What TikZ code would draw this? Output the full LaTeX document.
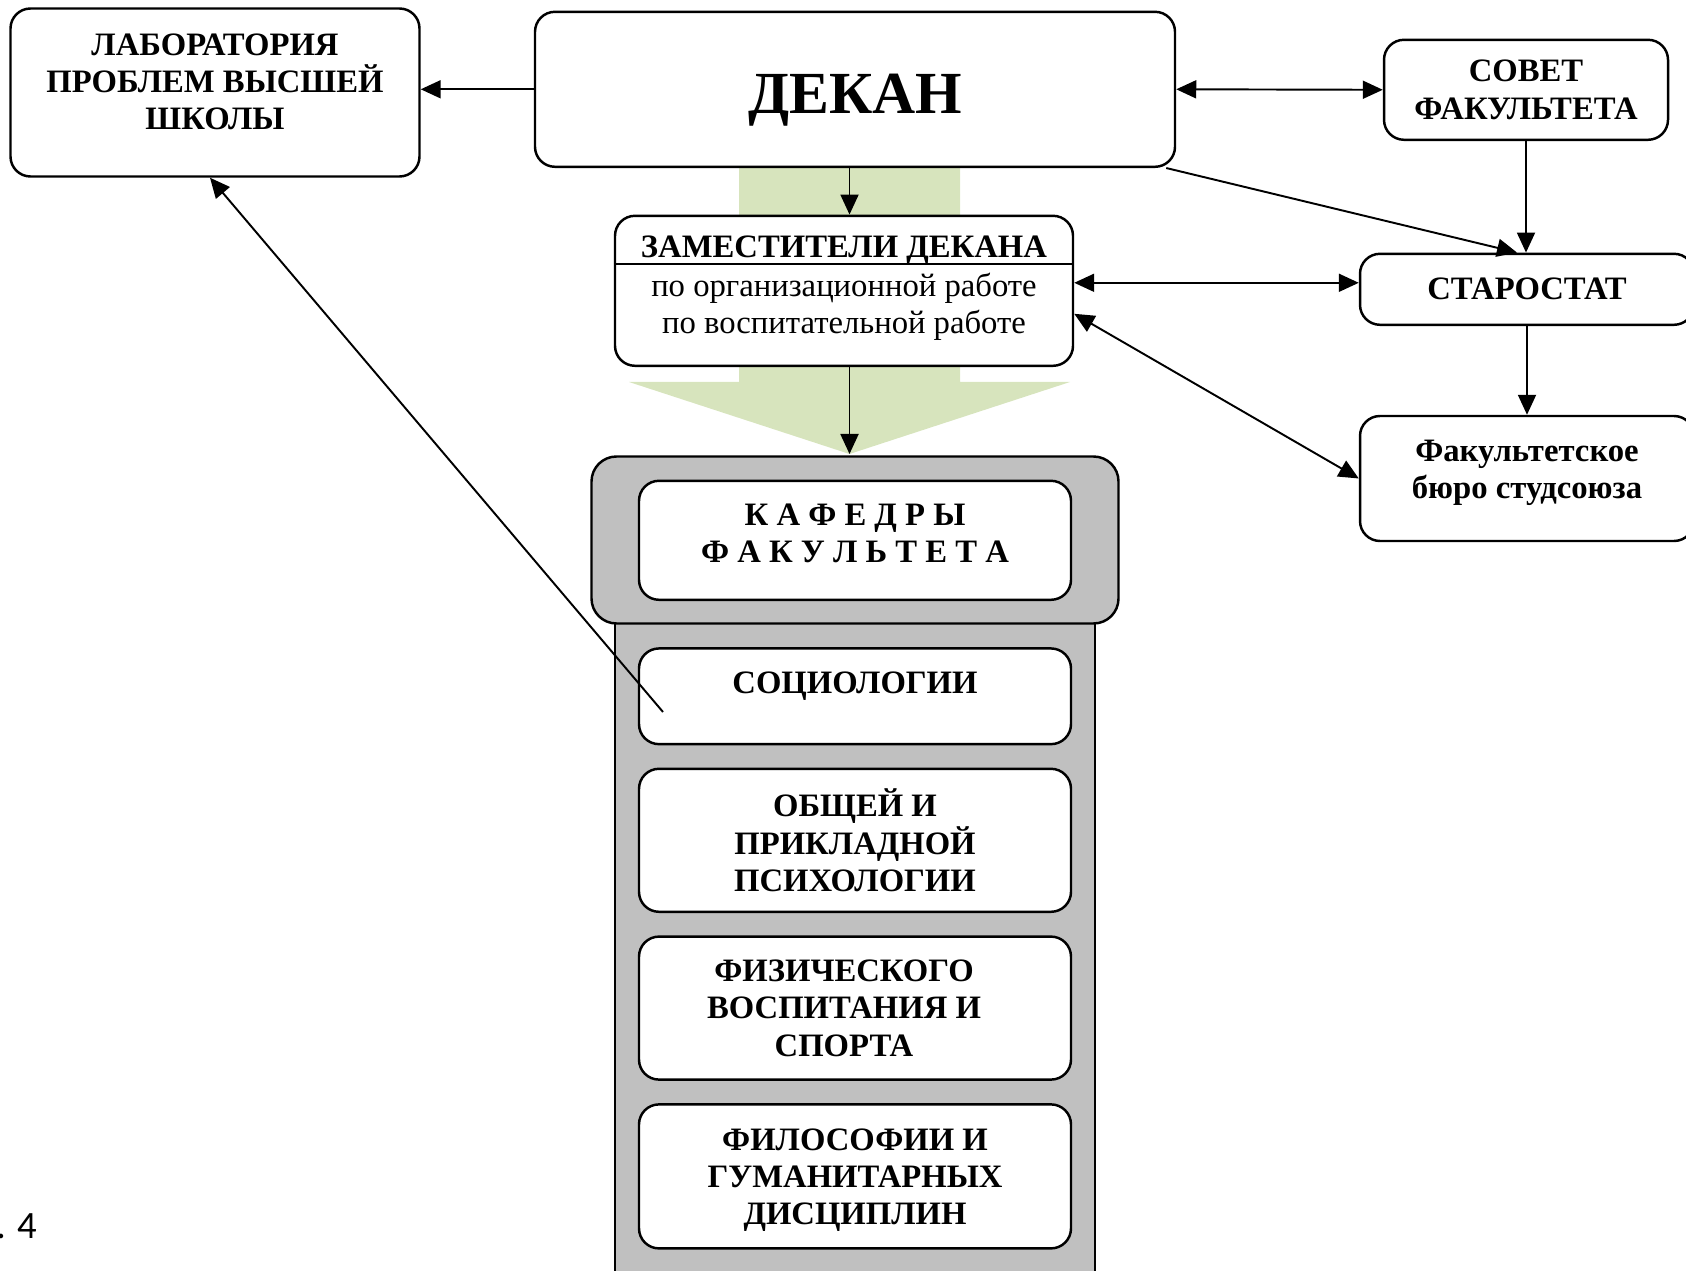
\documentclass[tikz,border=0pt]{standalone}
\usepackage{fontspec}
\setmainfont{Liberation Serif}
\newfontfamily\capfont{Carlito}
\usetikzlibrary{arrows.meta}
\definecolor{bigarrow}{HTML}{D7E4BD}
\definecolor{deptgray}{HTML}{C0C0C0}

\begin{document}
\begin{tikzpicture}
        [>={Triangle[length=2mm,width=1.8mm]},
        box/.style={draw, line width=0.7pt, rounded corners=2mm, fill=white, align=center, font=\bfseries\fontsize{9.3}{10.6}\selectfont},
        txt/.style={align=center, inner sep=0pt, font=\bfseries\fontsize{9.3}{10.6}\selectfont},
        plain/.style={align=center, inner sep=0pt, font=\fontsize{9.3}{10.6}\selectfont},
        edge/.style={line width=0.55pt, ->},
        twoway/.style={line width=0.55pt, <->}]

        \useasboundingbox (0,0) rectangle (16.86,-12.71);
        \clip (0,0) rectangle (16.86,-12.71);

        % green arrow behind the deputies
        \fill[bigarrow] (7.39,-1.5) -- (9.60,-1.5) -- (9.60,-3.82) -- (10.70,-3.82)
            -- (8.495,-4.54) -- (6.29,-3.82) -- (7.39,-3.82) -- cycle;
        \coordinate (tip) at (8.495,-4.54);

        % gray column of the departments
        \draw[fill=deptgray, line width=0.7pt] (6.15,-6.0) rectangle (10.95,-13.0);
        \node[box, fill=deptgray, rounded corners=2.5mm, minimum width=5.27cm, minimum height=1.67cm] (kaf) at (8.55,-5.40) {};

        \node[box, minimum width=4.09cm, minimum height=1.68cm] (lab) at (2.15,-0.925) {};
        \node[txt] (labtext) at (2.15,-0.82) {ЛАБОРАТОРИЯ\\ПРОБЛЕМ ВЫСШЕЙ\\ШКОЛЫ};
        \node[box, minimum width=6.40cm, minimum height=1.55cm] (dekan) at (8.55,-0.893) {};
        \node[txt, font=\bfseries\fontsize{17}{20}\selectfont] (dekantext) at (8.55,-1.0) {ДЕКАН};
        \node[box, minimum width=2.84cm, minimum height=1.0cm] (sovet) at (15.26,-0.898) {СОВЕТ\\ФАКУЛЬТЕТА};

        \node[box, minimum width=4.58cm, minimum height=1.50cm] (zam) at (8.44,-2.908) {};
        \draw[line width=0.7pt] ([yshift=-4.96mm]zam.north west) -- ([yshift=-4.96mm]zam.north east);
        \node[txt] (zamtitle) at (8.44,-2.505) {ЗАМЕСТИТЕЛИ ДЕКАНА};
        \node[plain] (zamlines) at (8.44,-3.065) {по организационной работе\\по воспитательной работе};

        \node[box, minimum width=3.34cm, minimum height=0.71cm] (staro) at (15.27,-2.893) {СТАРОСТАТ};
        \node[box, minimum width=3.34cm, minimum height=1.25cm] (buro) at (15.27,-4.785) {};
        \node[txt] (burotext) at (15.27,-4.73) {Факультетское\\бюро студсоюза};

        % departments
        \node[box, minimum width=4.32cm, minimum height=1.19cm] (kaftitle) at (8.55,-5.403) {};
        \node[txt] (kaftext) at (8.55,-5.33) {К А Ф Е Д Р Ы\\Ф А К У Л Ь Т Е Т А};
        \node[box, minimum width=4.32cm, minimum height=0.957cm] (soc) at (8.55,-6.963) {};
        \node[txt] (soctext) at (8.55,-6.86) {СОЦИОЛОГИИ};
        \node[box, minimum width=4.32cm, minimum height=1.43cm] (psy) at (8.55,-8.403) {ОБЩЕЙ И\\ПРИКЛАДНОЙ\\ПСИХОЛОГИИ};
        \node[box, minimum width=4.32cm, minimum height=1.43cm] (sport) at (8.55,-10.081) {};
        \node[txt] (sporttext) at (8.44,-10.081) {ФИЗИЧЕСКОГО\\ВОСПИТАНИЯ И\\СПОРТА};
        \node[box, minimum width=4.32cm, minimum height=1.44cm] (philo) at (8.55,-11.764) {};
        \node[txt] (philotext) at (8.55,-11.80) {ФИЛОСОФИИ И\\ГУМАНИТАРНЫХ\\ДИСЦИПЛИН};

        \node[font=\capfont\fontsize{11}{13}\selectfont, anchor=base west, inner sep=0pt] (fignum) at (-0.045,-12.38) {. 4};

        % connections
        \draw[edge] (dekan.west) -- (dekan.west -| lab.east);
        \draw[twoway] (dekan.east) -- (sovet.west);
        \draw[edge] (dekan.south -| tip) -- (zam.north -| tip);
        \draw[edge] (zam.south -| tip) -- (tip);
        \draw[edge] ([xshift=-1mm]dekan.south east) -- ([xshift=-1mm]staro.north);
        \draw[edge] (sovet.south) -- (sovet.south |- staro.north);
        \draw[edge] (staro) -- (buro);
        \draw[twoway] ([yshift=0.8mm]zam.east) -- ([yshift=0.8mm]zam.east -| staro.west);
        \draw[twoway] ([yshift=-2.3mm]zam.east) -- (buro.west);
        \coordinate (socstart) at (6.63,-7.12);
        \draw[edge] (socstart) -- ([xshift=-0.5mm]lab.south);

\end{tikzpicture}
\end{document}
